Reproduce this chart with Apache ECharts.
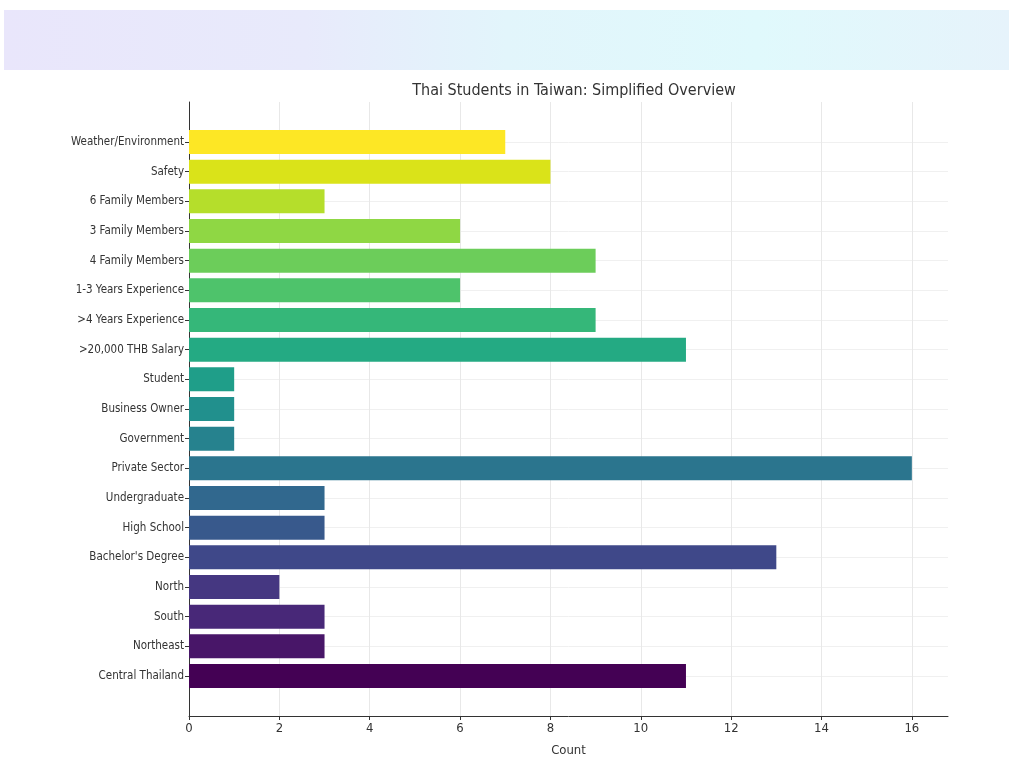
<!DOCTYPE html>
<html>
<head>
<meta charset="utf-8">
<script src="https://cdn.jsdelivr.net/npm/echarts@6/dist/echarts.min.js"></script>
<style>
  html, body { margin: 0; padding: 0; background: #fff; }
  #chart { width: 1009px; height: 767px; }
</style>
</head>
<body>
<div id="chart"></div>
<script>
// bottom to top, as in the source plot
const categories = [
    'Central Thailand', 'Northeast', 'South', 'North', "Bachelor's Degree",
    'High School', 'Undergraduate', 'Private Sector', 'Government', 'Business Owner',
    'Student', '>20,000 THB Salary', '>4 Years Experience', '1-3 Years Experience',
    '4 Family Members', '3 Family Members', '6 Family Members', 'Safety', 'Weather/Environment'
];
const counts = [11, 3, 3, 2, 13, 3, 3, 16, 1, 1, 1, 11, 9, 6, 9, 6, 3, 8, 7];
// viridis, one colour per bar
const barColors = [
    '#440154', '#481668', '#482878', '#453781', '#3f4889', '#38598c', '#31688e',
    '#2b758e', '#26828e', '#21908d', '#1f9e89', '#24aa83', '#35b779', '#4ec36b',
    '#6ccd5a', '#8fd744', '#b5de2b', '#dae319', '#fde725'
];
const xTicks = { min: 0, max: 16.8, interval: 2 };

const FONT = '"DejaVu Sans Condensed", "Liberation Sans Narrow", "DejaVu Sans", sans-serif';
const chart = echarts.init(document.getElementById('chart'));

chart.setOption({
    backgroundColor: '#fff',
    animation: false,
    textStyle: { fontFamily: FONT },
    graphic: [{
        type: 'rect',
        z: -10,
        shape: { x: 4, y: 10, width: 1005, height: 60 },
        style: {
            fill: new echarts.graphic.LinearGradient(0, 0, 1, 0, [
                { offset: 0, color: '#e9e6fb' },
                { offset: 0.3, color: '#e8eafb' },
                { offset: 0.5, color: '#e2f5fb' },
                { offset: 0.75, color: '#e0f9fc' },
                { offset: 1, color: '#e6f3fb' }
            ])
        }
    }],
    title: {
        text: 'Thai Students in Taiwan: Simplified Overview',
        left: 569,
        textAlign: 'center',
        top: 78,
        textStyle: { fontFamily: FONT, fontSize: 16, fontWeight: 'normal', color: '#333' }
    },
    grid: [
        { left: 189, right: 61, top: 102, bottom: 51 },
        { left: 189, right: 61, top: 142, bottom: 91 }
    ],
    xAxis: [{
        gridIndex: 0,
        type: 'value',
        min: xTicks.min,
        max: xTicks.max,
        interval: xTicks.interval,
        name: 'Count',
        nameLocation: 'middle',
        nameGap: 28,
        nameTextStyle: { fontFamily: FONT, fontSize: 13, color: '#333' },
        axisLine: { show: true, lineStyle: { color: '#333', width: 1 } },
        axisTick: { show: true, length: 4, lineStyle: { color: '#333' } },
        axisLabel: { fontFamily: FONT, fontSize: 13, color: '#333', margin: 6, showMaxLabel: false },
        splitLine: { show: true, showMaxLine: false, lineStyle: { color: '#e8e8e8' } }
    }, {
        gridIndex: 1,
        type: 'value',
        min: xTicks.min,
        max: xTicks.max,
        show: false
    }],
    yAxis: [{
        gridIndex: 0,
        type: 'value',
        min: 0,
        max: 1,
        axisLine: { show: true, lineStyle: { color: '#333', width: 1 } },
        axisTick: { show: false },
        axisLabel: { show: false },
        splitLine: { show: false }
    }, {
        gridIndex: 1,
        type: 'category',
        data: categories,
        boundaryGap: false,
        axisLine: { show: false },
        axisTick: { show: true, length: 4, lineStyle: { color: '#333' } },
        axisLabel: { fontFamily: FONT, fontSize: 11.5, color: '#333', margin: 5, interval: 0 },
        splitLine: { show: true, lineStyle: { color: '#f0f0f0' } }
    }],
    series: [{
        type: 'bar',
        xAxisIndex: 1,
        yAxisIndex: 1,
        barWidth: 24,
        data: counts.map((v, i) => ({ value: v, itemStyle: { color: barColors[i] } }))
    }]
});
</script>
</body>
</html>
